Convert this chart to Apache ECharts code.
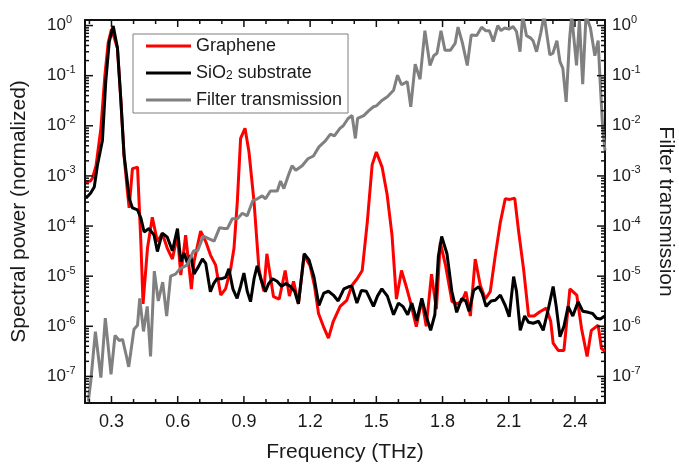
<!DOCTYPE html>
<html>
<head>
<meta charset="utf-8">
<script src="https://cdn.jsdelivr.net/npm/echarts@6/dist/echarts.min.js"></script>
<style>
html,body{margin:0;padding:0;background:#fff;}
#chart{width:679px;height:464px;}
</style>
</head>
<body>
<div id="chart"></div>
<script>
// ---- Data ----
const grapheneFreq = [0.184,0.205,0.214,0.23,0.252,0.27,0.285,0.3,0.308,0.327,0.342,0.357,0.372,0.38,0.395,0.418,0.433,0.443,0.463,0.485,0.508,0.53,0.553,0.576,0.599,0.614,0.636,0.662,0.674,0.704,0.727,0.749,0.772,0.795,0.817,0.84,0.855,0.87,0.885,0.905,0.923,0.946,0.968,0.99,1.004,1.034,1.06,1.087,1.106,1.125,1.147,1.173,1.2,1.22,1.238,1.26,1.283,1.305,1.336,1.366,1.39,1.413,1.436,1.459,1.481,1.5,1.526,1.549,1.571,1.591,1.614,1.635,1.654,1.681,1.706,1.726,1.75,1.772,1.79,1.814,1.843,1.866,1.888,1.906,1.926,1.948,1.971,1.994,2.016,2.039,2.062,2.084,2.105,2.127,2.145,2.167,2.19,2.215,2.241,2.27,2.29,2.301,2.324,2.35,2.377,2.408,2.43,2.455,2.474,2.505,2.52,2.535];
const grapheneValue = [7.6e-4,7.9e-4,9.1e-4,1.6e-3,8.9e-3,0.1,0.45,0.85,0.8,0.355,3.5e-2,2.5e-3,5.0e-4,2.3e-4,1.4e-3,1.5e-3,4.9e-5,2.8e-6,3.6e-5,1.5e-4,4.9e-5,7.1e-5,3.6e-5,2.2e-5,6.6e-5,1.05e-5,6.6e-5,5.5e-6,1.95e-5,7.9e-5,4.9e-5,2.6e-5,1.66e-5,4.2e-6,5.6e-6,1.4e-5,3.6e-5,3.0e-4,5.6e-3,8.9e-3,3.0e-3,3.0e-4,1.4e-5,5.0e-6,2.8e-5,3.9e-6,3.5e-6,1.3e-5,4.0e-6,7.9e-6,2.8e-6,2.6e-5,1.6e-5,6.3e-6,1.8e-6,1.0e-6,5.8e-7,1.26e-6,2.5e-6,3.3e-6,6.6e-6,8.9e-6,1.3e-5,1.2e-4,1.66e-3,3.0e-3,1.5e-3,4.2e-4,6.6e-5,3.5e-6,1.3e-5,6.3e-6,3.1e-6,9.8e-7,3.3e-6,1.0e-6,1.1e-5,2.2e-6,4.7e-5,1.6e-5,3.1e-6,2.8e-6,3.2e-6,4.9e-6,1.6e-6,2.2e-5,6.6e-6,3.5e-6,4.9e-6,2.6e-5,1.2e-4,3.5e-4,3.4e-4,3.6e-4,7.6e-5,1.4e-5,1.6e-6,1.6e-6,1.95e-6,2.3e-6,1.26e-6,4.6e-7,3.3e-7,3.3e-7,5.6e-6,4.2e-6,8.9e-7,2.5e-7,8.3e-7,1.05e-6,3.6e-7,3.2e-7];

const substrateFreq = [0.184,0.205,0.222,0.237,0.259,0.274,0.29,0.308,0.327,0.342,0.357,0.372,0.38,0.395,0.418,0.433,0.448,0.47,0.493,0.508,0.53,0.553,0.576,0.599,0.614,0.629,0.644,0.659,0.674,0.694,0.712,0.727,0.748,0.763,0.778,0.8,0.817,0.832,0.85,0.869,0.885,0.9,0.915,0.93,0.946,0.96,0.976,0.997,1.012,1.03,1.05,1.07,1.09,1.11,1.13,1.147,1.173,1.195,1.217,1.24,1.262,1.283,1.305,1.327,1.353,1.376,1.389,1.412,1.432,1.455,1.487,1.505,1.525,1.55,1.578,1.6,1.62,1.642,1.661,1.683,1.706,1.726,1.746,1.765,1.781,1.796,1.82,1.842,1.864,1.887,1.905,1.92,1.941,1.964,1.98,1.997,2.02,2.039,2.062,2.084,2.102,2.122,2.135,2.152,2.172,2.19,2.211,2.235,2.256,2.28,2.301,2.315,2.332,2.35,2.369,2.39,2.414,2.435,2.46,2.48,2.498,2.515,2.535];
const substrateValue = [3.6e-4,4.5e-4,6.0e-4,1.7e-3,5.1e-3,7.6e-2,0.48,0.98,0.355,3.5e-2,2.6e-3,7.6e-4,3.6e-4,2.3e-4,2.1e-4,1.45e-4,7.6e-5,8.9e-5,6.6e-5,3.1e-5,7.2e-5,6.0e-5,3.2e-5,8.9e-5,1.95e-5,2.9e-5,1.8e-5,2.6e-5,1.1e-5,1.55e-5,2.2e-5,1.8e-5,4.9e-6,7.1e-6,8.9e-6,8.9e-6,9.5e-6,1.4e-5,5.6e-6,3.6e-6,6.3e-6,1.15e-5,5.0e-6,3.1e-6,8.9e-6,1.6e-5,8.9e-6,4.9e-6,7.1e-6,8.9e-6,7.9e-6,6.3e-6,7.1e-6,6.3e-6,5.0e-6,2.8e-6,2.8e-5,2.1e-5,9.8e-6,2.6e-6,4.6e-6,5.0e-6,4.2e-6,3.2e-6,5.6e-6,6.2e-6,6.3e-6,2.9e-6,5.2e-6,5.0e-6,2.5e-6,4.0e-6,5.6e-6,4.0e-6,1.7e-6,2.9e-6,2.5e-6,1.7e-6,2.9e-6,1.3e-6,3.6e-6,1.6e-6,8.3e-7,1.7e-6,2.5e-5,6.2e-5,2.8e-5,5.0e-6,1.9e-6,3.6e-6,3.2e-6,2.0e-6,5.2e-6,6.2e-6,4.5e-6,2.5e-6,3.2e-6,3.3e-6,4.2e-6,2.6e-6,1.55e-6,9.8e-6,5.0e-6,8.3e-7,1.6e-6,1.2e-6,1.15e-6,1.26e-6,8.3e-7,2.3e-6,6.2e-6,2.5e-6,6.2e-7,1.0e-6,2.5e-6,1.6e-6,3.1e-6,2.0e-6,1.9e-6,1.8e-6,1.45e-6,1.4e-6,1.6e-6];

const filterFreq = [0.195,0.206,0.227,0.252,0.272,0.298,0.316,0.335,0.35,0.368,0.378,0.402,0.418,0.428,0.445,0.462,0.477,0.494,0.512,0.532,0.55,0.568,0.59,0.61,0.642,0.672,0.69,0.716,0.74,0.765,0.79,0.81,0.825,0.847,0.87,0.893,0.915,0.94,0.961,0.983,0.998,1.02,1.051,1.066,1.081,1.104,1.118,1.135,1.164,1.19,1.215,1.24,1.269,1.292,1.31,1.335,1.35,1.372,1.39,1.405,1.415,1.443,1.466,1.487,1.5,1.525,1.55,1.578,1.596,1.614,1.64,1.656,1.676,1.698,1.72,1.743,1.76,1.775,1.793,1.811,1.835,1.857,1.87,1.89,1.912,1.93,1.955,1.977,1.995,2.012,2.03,2.05,2.065,2.08,2.1,2.12,2.135,2.151,2.163,2.18,2.2,2.21,2.226,2.245,2.26,2.286,2.3,2.318,2.332,2.345,2.36,2.375,2.385,2.407,2.42,2.435,2.45,2.47,2.49,2.505,2.514,2.525,2.536];
const filterValue = [3.2e-8,7.9e-8,7.8e-7,9.5e-8,1.45e-6,1.1e-7,6.6e-7,5.2e-7,5.5e-7,2.5e-7,1.55e-7,8.7e-7,1.05e-6,3.6e-6,7.9e-7,2.5e-6,2.5e-7,1.26e-5,3.2e-6,7.6e-6,1.6e-6,1.0e-5,1.1e-5,1.4e-5,1.66e-5,3.2e-5,3.2e-5,6.3e-5,5.6e-5,5.0e-5,9.3e-5,8.9e-5,8.9e-5,1.4e-4,1.4e-4,1.8e-4,1.6e-4,3.2e-4,3.5e-4,4.0e-4,3.5e-4,5.0e-4,5.0e-4,7.9e-4,5.6e-4,1.1e-3,1.6e-3,1.3e-3,1.6e-3,2.2e-3,2.5e-3,3.8e-3,5.0e-3,6.8e-3,6.3e-3,8.9e-3,1.0e-2,1.4e-2,1.6e-2,5.6e-3,1.4e-2,1.6e-2,2.0e-2,2.4e-2,2.5e-2,3.2e-2,3.8e-2,5.1e-2,0.102,6.6e-2,7.6e-2,2.4e-2,0.17,8.5e-2,0.79,0.16,0.25,0.28,0.79,0.32,0.32,0.44,0.93,0.45,0.16,0.65,0.63,0.93,0.79,0.79,0.48,1.0,0.79,0.89,0.85,0.95,0.76,0.3,1.6,0.63,0.56,0.5,0.3,0.71,1.6,0.26,0.28,0.5,0.19,0.14,3.0e-2,0.5,1.6,0.16,1.26,6.8e-2,1.6,0.89,0.25,0.5,7.6e-2,1.0e-2,3.2e-3];

const xTickLabels = [0.3, 0.6, 0.9, 1.2, 1.5, 1.8, 2.1, 2.4];
const xMinorTicks = [0.2,0.4,0.5,0.7,0.8,1.0,1.1,1.3,1.4,1.6,1.7,1.9,2.0,2.2,2.3,2.5];
const yDecadeExponents = [-7, -6, -5, -4, -3, -2, -1, 0];
const yMinorMultipliers = [2, 3, 4, 5, 6, 7, 8, 9];

// ---- Chart ----
const FONT = '"Liberation Sans", Arial, Helvetica, sans-serif';
const TXT = '#1a1a1a';
const X_MIN = 0.18, X_MAX = 2.536;
const Y_MIN = 2.95e-8, Y_MAX = 1.29;
const LY_MIN = Math.log10(Y_MIN), LY_MAX = Math.log10(Y_MAX);

// tick marks (frame decoration): [x, y, direction, length]
// direction 0: from left frame to the right, 1: from right frame to the left, 2: from bottom up, 3: from top down
const tickMarks = [];
yDecadeExponents.forEach(n => {
  const v = Math.pow(10, n);
  tickMarks.push([X_MIN, v, 0, 8], [X_MAX, v, 1, 8]);
});
for (let n = -8; n <= 0; n++) {
  yMinorMultipliers.forEach(k => {
    const v = k * Math.pow(10, n);
    if (v > Y_MIN && v < Y_MAX) tickMarks.push([X_MIN, v, 0, 4], [X_MAX, v, 1, 4]);
  });
}
xTickLabels.forEach(f => tickMarks.push([f, Y_MIN, 2, 7], [f, Y_MAX, 3, 7]));
xMinorTicks.forEach(f => tickMarks.push([f, Y_MIN, 2, 4], [f, Y_MAX, 3, 4]));

function renderTick(params, api) {
  const p = api.coord([api.value(0), api.value(1)]);
  const dir = api.value(2), len = api.value(3);
  let x2 = p[0], y2 = p[1];
  if (dir === 0) x2 += len;
  else if (dir === 1) x2 -= len;
  else if (dir === 2) y2 -= len;
  else y2 += len;
  return { type: 'line', shape: { x1: p[0], y1: p[1], x2: x2, y2: y2 },
           style: { stroke: '#111', lineWidth: 1.5 } };
}

function zip(a, b) { return a.map((x, i) => [x, b[i]]); }

const axisLine = { show: true, onZero: false, lineStyle: { color: '#111', width: 2 } };

function yLabelAxisDef(pos) {
  const isLeft = pos === 'left';
  return {
    type: 'value', position: pos, min: LY_MIN, max: LY_MAX,
    axisLine: { show: false, onZero: false },
    axisTick: { show: false },
    axisLabel: {
      show: true, customValues: yDecadeExponents,
      formatter: v => '{b|10}{s|' + Math.round(v) + '}',
      align: 'left', margin: isLeft ? 38 : 7,
      rich: {
        b: { fontSize: 17, color: TXT, fontFamily: FONT, lineHeight: 22 },
        s: { fontSize: 11, color: TXT, fontFamily: FONT, verticalAlign: 'top', lineHeight: 12 }
      }
    },
    splitLine: { show: false }
  };
}

const chart = echarts.init(document.getElementById('chart'), null, { renderer: 'canvas' });

const option = {
  backgroundColor: '#fff',
  animation: false,
  grid: { left: 85, right: 74, top: 20, bottom: 61, containLabel: false, outerBoundsMode: 'none' },
  legend: {
    orient: 'vertical', left: 133, top: 34,
    padding: [3, 6, 4, 13], itemGap: 9, itemWidth: 45, itemHeight: 3,
    icon: 'rect',
    borderColor: '#7f7f7f', borderWidth: 1, backgroundColor: '#fff', borderRadius: 0,
    textStyle: {
      fontSize: 18, color: TXT, fontFamily: FONT,
      rich: {
        t: { fontSize: 18, color: TXT, fontFamily: FONT, lineHeight: 18 },
        sub: { fontSize: 12, color: TXT, fontFamily: FONT, verticalAlign: 'bottom', lineHeight: 10 }
      }
    },
    formatter: name => name === 'SiO2 substrate' ? '{t|SiO}{sub|2}{t| substrate}' : '{t|' + name + '}',
    data: ['Graphene', 'SiO2 substrate', 'Filter transmission']
  },
  xAxis: [
    { type: 'value', position: 'bottom', min: X_MIN, max: X_MAX,
      axisLine: axisLine, axisTick: { show: false },
      axisLabel: { show: true, customValues: xTickLabels, formatter: v => v.toFixed(1),
        fontSize: 18, color: TXT, fontFamily: FONT, margin: 10 },
      splitLine: { show: false },
      name: 'Frequency (THz)', nameLocation: 'middle', nameGap: 39,
      nameTextStyle: { fontSize: 21, color: TXT, fontFamily: FONT } },
    { type: 'value', position: 'top', min: X_MIN, max: X_MAX,
      axisLine: axisLine, axisTick: { show: false }, axisLabel: { show: false }, splitLine: { show: false } }
  ],
  yAxis: [
    { type: 'log', logBase: 10, position: 'left', min: Y_MIN, max: Y_MAX,
      axisLine: axisLine, axisTick: { show: false }, axisLabel: { show: false }, splitLine: { show: false },
      name: 'Spectral power (normalized)', nameLocation: 'middle', nameGap: 55,
      nameTextStyle: { fontSize: 21, color: TXT, fontFamily: FONT } },
    { type: 'log', logBase: 10, position: 'right', min: Y_MIN, max: Y_MAX,
      axisLine: axisLine, axisTick: { show: false }, axisLabel: { show: false }, splitLine: { show: false },
      name: 'Filter transmission', nameLocation: 'middle', nameGap: 50, nameRotate: -90,
      nameTextStyle: { fontSize: 21, color: TXT, fontFamily: FONT } },
    yLabelAxisDef('left'),
    yLabelAxisDef('right')
  ],
  series: [
    { name: 'Graphene', type: 'line', xAxisIndex: 0, yAxisIndex: 0, data: zip(grapheneFreq, grapheneValue),
      symbol: 'none', lineStyle: { color: '#ff0000', width: 3 }, itemStyle: { color: '#ff0000' }, clip: true },
    { name: 'SiO2 substrate', type: 'line', xAxisIndex: 0, yAxisIndex: 0, data: zip(substrateFreq, substrateValue),
      symbol: 'none', lineStyle: { color: '#000000', width: 3 }, itemStyle: { color: '#000000' }, clip: true },
    { name: 'Filter transmission', type: 'line', xAxisIndex: 0, yAxisIndex: 1, data: zip(filterFreq, filterValue),
      symbol: 'none', lineStyle: { color: '#808080', width: 3 }, itemStyle: { color: '#808080' }, clip: true },
    { name: 'ticks', type: 'custom', xAxisIndex: 0, yAxisIndex: 0, data: tickMarks,
      renderItem: renderTick, silent: true, clip: false, z: 5 }
  ]
};
chart.setOption(option);
</script>
</body>
</html>
